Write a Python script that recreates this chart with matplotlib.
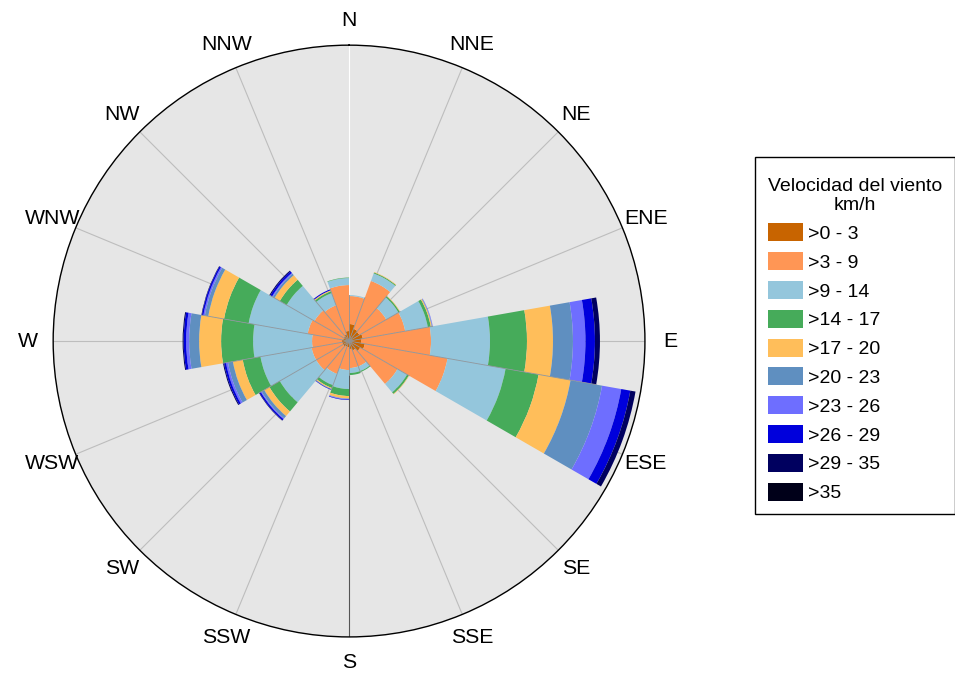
import numpy as np
import matplotlib
matplotlib.use("Agg")
import matplotlib.pyplot as plt
from matplotlib.patches import Patch, Rectangle

plt.rcParams['font.family'] = ['Liberation Sans', 'DejaVu Sans']

# direction bins (bearing, degrees): 18 sectors of 20 degrees starting at 0
bin_starts = list(range(0, 360, 20))

speed_classes = [">0 - 3", ">3 - 9", ">9 - 14", ">14 - 17", ">17 - 20",
                 ">20 - 23", ">23 - 26", ">26 - 29", ">29 - 35", ">35"]
class_colors = ["#c86400", "#ff9655", "#94c6dc", "#46ab5a", "#ffbe5a",
                "#5f8fc0", "#6e6eff", "#0000dc", "#00005f", "#000019"]

# frequency of each speed class per direction bin (stacked)
f_0_3   = [1.7, 1.3, 1.2, 1.4, 1.2, 1.6, 1.3, 1.0, 0.8, 0.6, 0.6, 0.7, 0.7, 0.7, 0.6, 0.6, 0.7, 1.0]
f_3_9   = [2.8, 5.1, 3.1, 4.3, 7.0, 8.4, 4.3, 1.7, 1.9, 2.3, 2.9, 3.1, 3.1, 3.0, 3.6, 3.4, 3.1, 4.6]
f_9_14  = [0.1, 0.8, 1.4, 2.3, 5.9, 5.9, 1.1, 0.5, 0.5, 1.9, 1.2, 4.2, 5.2, 5.9, 6.0, 3.2, 1.3, 0.7]
f_14_17 = [0.0, 0.1, 0.15, 0.3, 3.7, 3.35, 0.2, 0.1, 0.2, 0.7, 0.3, 1.2, 1.8, 3.2, 2.5, 0.8, 0.2, 0.05]
f_17_20 = [0.0, 0.05, 0.05, 0.1, 2.6, 3.25, 0.05, 0.0, 0.0, 0.25, 0.1, 0.6, 1.0, 2.2, 1.6, 0.6, 0.1, 0.0]
f_20_23 = [0.0, 0.0, 0.0, 0.05, 2.0, 3.2, 0.0, 0.0, 0.0, 0.05, 0.05, 0.3, 0.5, 1.0, 0.35, 0.2, 0.0, 0.0]
f_23_26 = [0.0, 0.0, 0.0, 0.05, 1.25, 1.95, 0.0, 0.0, 0.0, 0.05, 0.0, 0.1, 0.2, 0.3, 0.15, 0.1, 0.0, 0.0]
f_26_29 = [0.0, 0.0, 0.0, 0.0, 0.95, 0.92, 0.0, 0.0, 0.0, 0.05, 0.05, 0.15, 0.2, 0.25, 0.15, 0.2, 0.1, 0.0]
f_29_35 = [0.0, 0.0, 0.0, 0.0, 0.5, 0.53, 0.0, 0.0, 0.0, 0.0, 0.0, 0.05, 0.1, 0.1, 0.05, 0.1, 0.0, 0.0]
f_35    = [0.0] * 18

series = [f_0_3, f_3_9, f_9_14, f_14_17, f_17_20, f_20_23, f_23_26, f_26_29, f_29_35, f_35]

r_max = 29.6

compass = ["N", "NNE", "NE", "ENE", "E", "ESE", "SE", "SSE",
           "S", "SSW", "SW", "WSW", "W", "WNW", "NW", "NNW"]

W, H = 955, 674
fig = plt.figure(figsize=(W / 100, H / 100), dpi=100)
ax = fig.add_axes([0.0555, 0.055, 0.62, 0.878], projection='polar')
ax.set_theta_zero_location('N')
ax.set_theta_direction(-1)
ax.set_facecolor('#e6e6e6')
ax.set_ylim(0, r_max)
ax.set_yticks([])
ax.set_xticks([])
ax.grid(False)
ax.spines['polar'].set_linewidth(1.0)
ax.spines['polar'].set_color('black')

# radial lines at compass directions
for i, name in enumerate(compass):
    ang = np.deg2rad(i * 22.5)
    col = '#bdbdbd'
    if name == 'N':
        col = 'white'
    elif name == 'S':
        col = '#555555'
    ax.plot([ang, ang], [0, r_max], color=col, lw=0.8, zorder=1)
    ax.text(ang, r_max * 1.085, name, ha='center', va='center', fontsize=15.3)

theta = np.deg2rad(np.array(bin_starts))
width = np.deg2rad(20)
bottom = np.zeros(len(bin_starts))
for vals, col in zip(series, class_colors):
    v = np.array(vals)
    ax.bar(theta, v, width=width, bottom=bottom, align='edge', color=col,
           linewidth=0, zorder=2)
    bottom = bottom + v

# thin seams between adjacent sectors
totals = bottom
n = len(totals)
for i in range(n):
    seam = min(totals[i], totals[i - 1])
    ax.plot([theta[i], theta[i]], [0, seam], color='#8c959c', lw=0.6, zorder=3)

# legend frame drawn separately
frame = Rectangle((755 / W, 1 - 514 / H), 199.5 / W, (514 - 157) / H,
                  transform=fig.transFigure, facecolor='white',
                  edgecolor='black', linewidth=1.0, zorder=0)
fig.patches.append(frame)

handles = [Patch(facecolor=c, edgecolor='none') for c in class_colors]
leg = fig.legend(handles, speed_classes, title="Velocidad del viento\nkm/h",
                 loc='upper left', bbox_to_anchor=(755 / W, 1 - 165 / H),
                 borderaxespad=0.0,
                 fontsize=14, title_fontsize=14, frameon=False,
                 handlelength=1.8, handleheight=1.05,
                 labelspacing=0.47, handletextpad=0.28, borderpad=0.65)
leg.get_title().set_multialignment('center')
leg._legend_box.align = "left"

fig.savefig('out.png', dpi=100)
